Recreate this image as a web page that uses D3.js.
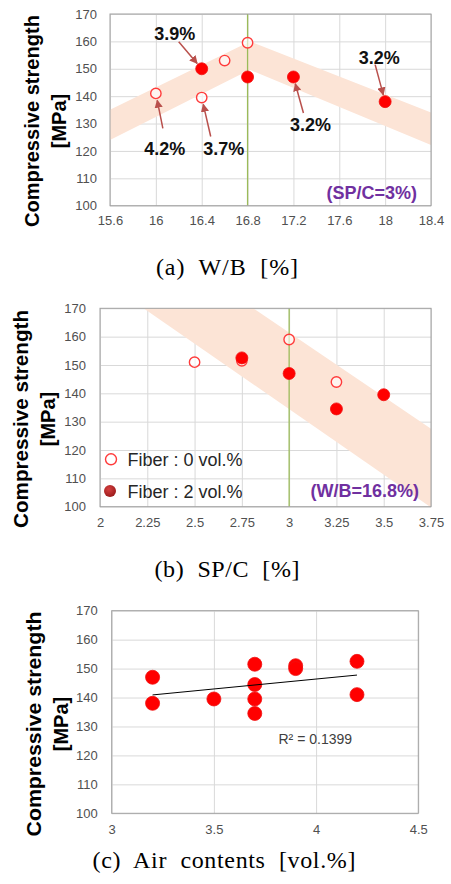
<!DOCTYPE html>
<html>
  <head>
    <script src="https://d3js.org/d3.v7.min.js"></script>
    <style>
      body { margin: 0; background: #fff; }
      svg text { white-space: pre; }
    </style>
  </head>
  <body>
    <script>

    // shared y ticks (compressive strength, MPa)
    var strengthTicks = [100, 110, 120, 130, 140, 150, 160, 170];

    // (a) W/B series
    var wbTicks = [15.6, 16, 16.4, 16.8, 17.2, 17.6, 18, 18.4];
    var wbFiber0 = [[16, 141], [16.4, 139.5], [16.6, 153], [16.8, 159.5]];
    var wbFiber2 = [[16.4, 150], [16.8, 147], [17.2, 147], [18, 138]];
    var wbBandTop = [[15.6, 135], [16.82, 160], [18.4, 134]];
    var wbBandBottom = [[15.6, 124], [16.82, 149.6], [18.4, 122.2]];
    // air content labels and the points they point at
    var wbAirPoints = [[16, 141], [16.4, 150], [16.4, 139.5], [17.2, 147], [18, 138]];
    var wbAirLabels = ["4.2%", "3.9%", "3.7%", "3.2%", "3.2%"];

    // (b) SP/C series
    var spcTicks = [2, 2.25, 2.5, 2.75, 3, 3.25, 3.5, 3.75];
    var spcFiber0 = [[2.5, 151], [2.75, 151.5], [3, 159], [3.25, 144]];
    var spcFiber2 = [[2.75, 152.5], [3, 147], [3.25, 134.5], [3.5, 139.5]];
    var spcBandTop = [[2.81, 170], [3.75, 127.5]];
    var spcBandBottom = [[2.23, 170], [3.745, 100], [3.75, 100]];

    // (c) air contents
    var airTicks = [3, 3.5, 4, 4.5];
    var airContent = [3.2, 3.2, 3.5, 3.7, 3.7, 3.7, 3.7, 3.9, 3.9, 4.2, 4.2];
    var airStrength = [147, 138, 139.5, 151.5, 144.5, 139.5, 134.5, 151, 150, 152.5, 141];
    var airR2 = "R\u00b2 = 0.1399";

    var W = 451, H = 884;
    var red = "#ff0000";
    var bandColor = "#fce4d6";
    var green = "#9bbb59";
    var purple = "#7030a0";
    var arrowColor = "#b9504c";
    var tickColor = "#505050";

    var svg = d3.select("body").append("svg")
      .attr("width", W)
      .attr("height", H);

    var defs = svg.append("defs");
    defs.append("marker")
      .attr("id", "arr")
      .attr("viewBox", "0 0 10 10")
      .attr("refX", 9).attr("refY", 5)
      .attr("markerWidth", 5.5).attr("markerHeight", 5.5)
      .attr("markerUnits", "strokeWidth")
      .attr("orient", "auto")
      .append("path")
      .attr("d", "M0,0 L10,5 L0,10 z")
      .attr("fill", arrowColor);
    var rg = defs.append("radialGradient").attr("id", "legendDot")
      .attr("cx", "40%").attr("cy", "35%").attr("r", "65%");
    rg.append("stop").attr("offset", "0%").attr("stop-color", "#d64040");
    rg.append("stop").attr("offset", "100%").attr("stop-color", "#9c1c1c");

    // build one panel: scales, grid, frame, tick labels, y title, caption
    function panel(o) {
      var g = svg.append("g");
      var x = d3.scaleLinear().domain(o.xDomain).range([o.left, o.right]);
      var y = d3.scaleLinear().domain([100, 170]).range([o.bottom, o.top]);

      // grid
      g.append("g")
        .attr("transform", "translate(0," + o.bottom + ")")
        .call(d3.axisBottom(x).tickValues(o.xTicks).tickSize(-(o.bottom - o.top)).tickFormat(""))
        .call(function(a) {
          a.select(".domain").remove();
          a.selectAll("line").attr("stroke", "#d9d9d9");
        });
      g.append("g")
        .attr("transform", "translate(" + o.left + ",0)")
        .call(d3.axisLeft(y).tickValues(strengthTicks).tickSize(-(o.right - o.left)).tickFormat(""))
        .call(function(a) {
          a.select(".domain").remove();
          a.selectAll("line").attr("stroke", "#d9d9d9");
        });

      var layer = g.append("g");

      // frame
      g.append("rect")
        .attr("x", o.left).attr("y", o.top)
        .attr("width", o.right - o.left).attr("height", o.bottom - o.top)
        .attr("fill", "none").attr("stroke", "#a0a0a0");

      // tick labels
      g.append("g")
        .attr("transform", "translate(0," + (o.bottom + o.xLabelGap) + ")")
        .call(d3.axisBottom(x).tickValues(o.xTicks).tickSize(0).tickPadding(0).tickFormat(d3.format("")))
        .call(function(a) {
          a.select(".domain").remove();
          a.selectAll("text")
            .attr("font-family", "Liberation Sans, Arial, sans-serif")
            .attr("font-size", 13).attr("fill", tickColor);
        });
      g.append("g")
        .attr("transform", "translate(" + (o.left - o.yLabelGap) + ",0)")
        .call(d3.axisLeft(y).tickValues(strengthTicks).tickSize(0).tickPadding(0))
        .call(function(a) {
          a.select(".domain").remove();
          a.selectAll("text")
            .attr("font-family", "Liberation Sans, Arial, sans-serif")
            .attr("font-size", 13).attr("fill", tickColor);
        });

      // y title, two rotated lines
      g.append("text")
        .attr("transform", "translate(" + o.titleX + "," + o.titleY + ") rotate(-90)")
        .attr("text-anchor", "middle")
        .attr("font-family", "Liberation Sans, Arial, sans-serif")
        .attr("font-weight", "bold")
        .attr("font-size", 20)
        .attr("textLength", o.titleLen).attr("lengthAdjust", "spacingAndGlyphs")
        .text("Compressive strength");
      g.append("text")
        .attr("transform", "translate(" + (o.titleX + 27) + "," + o.titleY + ") rotate(-90)")
        .attr("text-anchor", "middle")
        .attr("font-family", "Liberation Sans, Arial, sans-serif")
        .attr("font-weight", "bold")
        .attr("font-size", 20)
        .text("[MPa]");

      // caption
      g.append("text")
        .attr("x", o.capX).attr("y", o.capY)
        .attr("text-anchor", "middle")
        .attr("font-family", "Liberation Serif, Times New Roman, serif")
        .attr("font-size", 24)
        .attr("textLength", o.capLen).attr("lengthAdjust", "spacing")
        .text(o.caption);

      return { x: x, y: y, g: layer, top: o.top, bottom: o.bottom, left: o.left, right: o.right };
    }

    function band(p, topEdge, bottomEdge) {
      var poly = topEdge.concat(bottomEdge.slice().reverse());
      p.g.append("path")
        .attr("d", d3.line().x(function(d) { return p.x(d[0]); }).y(function(d) { return p.y(d[1]); })(poly) + "Z")
        .attr("fill", bandColor);
    }

    function vline(p, v) {
      p.g.append("line")
        .attr("x1", p.x(v)).attr("x2", p.x(v))
        .attr("y1", p.top).attr("y2", p.bottom)
        .attr("stroke", green).attr("stroke-width", 1.3);
    }

    function openDots(p, data) {
      p.g.selectAll(null).data(data).enter().append("circle")
        .attr("cx", function(d) { return p.x(d[0]); })
        .attr("cy", function(d) { return p.y(d[1]); })
        .attr("r", 5.2)
        .attr("fill", "#fff").attr("fill-opacity", 0.6)
        .attr("stroke", "#ff3b3b").attr("stroke-width", 1.4);
    }

    function filledDots(p, data, r) {
      p.g.selectAll(null).data(data).enter().append("circle")
        .attr("cx", function(d) { return p.x(d[0]); })
        .attr("cy", function(d) { return p.y(d[1]); })
        .attr("r", r)
        .attr("fill", red).attr("stroke", "#f01010").attr("stroke-width", 0.8);
    }

    // ---------------- (a) ----------------
    var pa = panel({
      xDomain: [15.6, 18.4], xTicks: wbTicks,
      left: 110, right: 431, top: 14, bottom: 205.7,
      xLabelGap: 10, yLabelGap: 13,
      titleX: 39, titleY: 121, titleLen: 212,
      capX: 227, capY: 275, capLen: 142, caption: "(a)  W/B  [%]"
    });
    band(pa, wbBandTop, wbBandBottom);
    vline(pa, 16.8);
    openDots(pa, wbFiber0);
    filledDots(pa, wbFiber2, 6);

    // label offsets (px) relative to the pointed point: [label dx, dy, arrow start dx, dy]
    var wbLabelOffsets = [[9, 55, 7, 35], [-27, -35, -23, -27], [22, 51, 9, 39], [17, 48, 10, 36], [-6, -44, -10, -37]];
    wbAirPoints.forEach(function(d, i) {
      var px = pa.x(d[0]), py = pa.y(d[1]);
      var off = wbLabelOffsets[i];
      var sx = px + off[2], sy = py + off[3];
      var len = Math.sqrt(off[2] * off[2] + off[3] * off[3]);
      var stop = 7;
      var ex = px + off[2] / len * stop, ey = py + off[3] / len * stop;
      pa.g.append("line")
        .attr("x1", sx).attr("y1", sy).attr("x2", ex).attr("y2", ey)
        .attr("stroke", arrowColor).attr("stroke-width", 1.5)
        .attr("marker-end", "url(#arr)");
      pa.g.append("text")
        .attr("x", px + off[0]).attr("y", py + off[1] + 6.5)
        .attr("text-anchor", "middle")
        .attr("font-family", "Liberation Sans, Arial, sans-serif")
        .attr("font-weight", "bold").attr("font-size", 18)
        .attr("fill", "#111")
        .text(wbAirLabels[i]);
    });
    pa.g.append("text")
      .attr("x", 417).attr("y", 199)
      .attr("text-anchor", "end")
      .attr("font-family", "Liberation Sans, Arial, sans-serif")
      .attr("font-weight", "bold").attr("font-size", 18)
      .attr("fill", purple)
      .text("(SP/C=3%)");

    // ---------------- (b) ----------------
    var pb = panel({
      xDomain: [2, 3.75], xTicks: spcTicks,
      left: 100, right: 431, top: 308.3, bottom: 506.7,
      xLabelGap: 11, yLabelGap: 14,
      titleX: 28, titleY: 419, titleLen: 218,
      capX: 227, capY: 577, capLen: 145, caption: "(b)  SP/C  [%]"
    });
    band(pb, spcBandTop, spcBandBottom);
    vline(pb, 3);
    openDots(pb, spcFiber0);
    filledDots(pb, spcFiber2, 6);

    // legend
    var lg = pb.g.append("g").attr("font-family", "Liberation Sans, Arial, sans-serif")
      .attr("font-size", 18).attr("fill", "#262626");
    lg.append("circle").attr("cx", 111).attr("cy", 459.3).attr("r", 5.5)
      .attr("fill", "#fff").attr("stroke", "#ff3b3b").attr("stroke-width", 1.4);
    lg.append("text").attr("x", 127.5).attr("y", 465.5).text("Fiber : 0 vol.%");
    lg.append("circle").attr("cx", 110).attr("cy", 491).attr("r", 6)
      .attr("fill", "url(#legendDot)");
    lg.append("text").attr("x", 127.5).attr("y", 497.5).text("Fiber : 2 vol.%");

    pb.g.append("text")
      .attr("x", 419).attr("y", 496.5)
      .attr("text-anchor", "end")
      .attr("font-family", "Liberation Sans, Arial, sans-serif")
      .attr("font-weight", "bold").attr("font-size", 18)
      .attr("fill", purple)
      .text("(W/B=16.8%)");

    // ---------------- (c) ----------------
    var pc = panel({
      xDomain: [3, 4.5], xTicks: airTicks,
      left: 111.7, right: 418.3, top: 610.7, bottom: 813.3,
      xLabelGap: 11, yLabelGap: 14,
      titleX: 41, titleY: 724, titleLen: 225,
      capX: 224, capY: 868, capLen: 263, caption: "(c)  Air  contents  [vol.%]"
    });
    var airPts = airContent.map(function(v, i) { return [v, airStrength[i]]; });
    filledDots(pc, airPts, 7);

    // linear trend line (least squares)
    var mx = d3.mean(airContent), my = d3.mean(airStrength);
    var sxy = d3.sum(airPts, function(d) { return (d[0] - mx) * (d[1] - my); });
    var sxx = d3.sum(airPts, function(d) { return (d[0] - mx) * (d[0] - mx); });
    var slope = sxy / sxx, icpt = my - slope * mx;
    var xr = d3.extent(airContent);
    pc.g.append("line")
      .attr("x1", pc.x(xr[0])).attr("y1", pc.y(icpt + slope * xr[0]))
      .attr("x2", pc.x(xr[1])).attr("y2", pc.y(icpt + slope * xr[1]))
      .attr("stroke", "#000").attr("stroke-width", 1);
    pc.g.append("text")
      .attr("x", 278.5).attr("y", 744)
      .attr("font-family", "Liberation Sans, Arial, sans-serif")
      .attr("font-size", 14).attr("fill", "#404040")
      .text(airR2);

    </script>
  </body>
</html>
